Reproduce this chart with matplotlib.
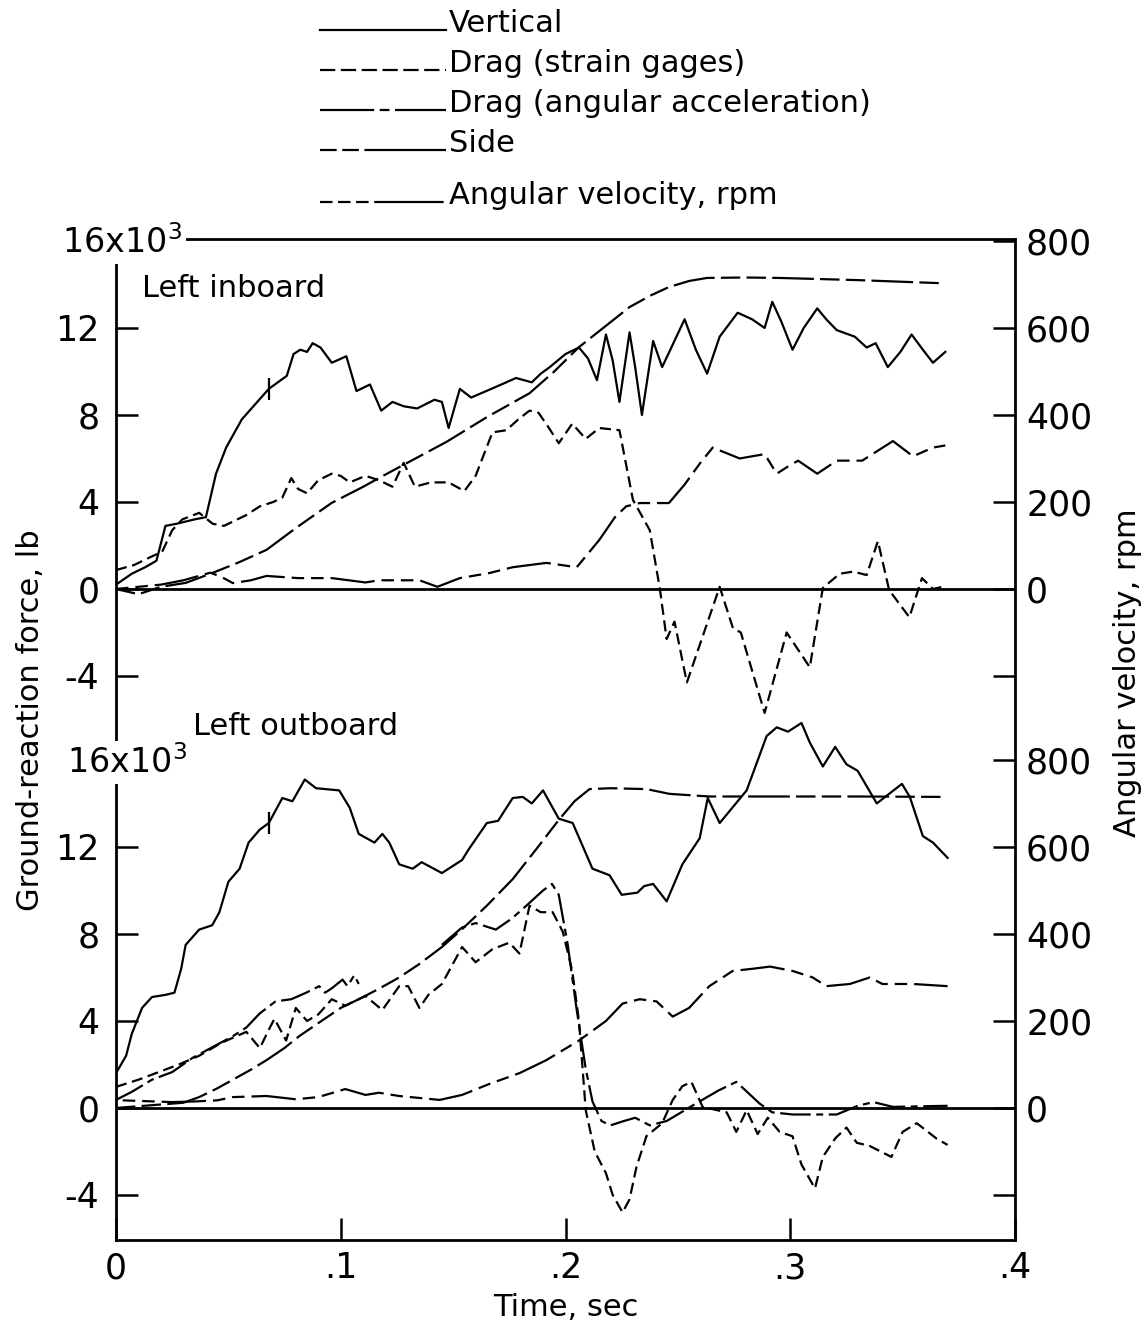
import numpy as np
import matplotlib.pyplot as plt
from matplotlib.lines import Line2D

plt.rcParams['font.family'] = 'DejaVu Sans'
plt.rcParams['mathtext.fontset'] = 'dejavusans'
plt.rcParams['lines.scale_dashes'] = False

W, H = 1148, 1324

# ---- Left inboard (time in sec, force in 10^3 lb, angular velocity in rpm) ----
in_vert_t = [0, 0.007, 0.013, 0.018, 0.022, 0.027, 0.035, 0.040, 0.0445, 0.049, 0.056, 0.062,
             0.068, 0.076, 0.079, 0.082, 0.085, 0.0875, 0.091, 0.096, 0.1025, 0.107, 0.113,
             0.118, 0.123, 0.128, 0.134, 0.1417, 0.145, 0.148, 0.153, 0.158, 0.167, 0.178,
             0.185, 0.189, 0.193, 0.200, 0.206, 0.210, 0.214, 0.218, 0.221, 0.224, 0.2285,
             0.231, 0.234, 0.239, 0.243, 0.248, 0.253, 0.258, 0.263, 0.2686, 0.2766, 0.283,
             0.2886, 0.292, 0.296, 0.301, 0.306, 0.312, 0.316, 0.3207, 0.3287, 0.334, 0.338,
             0.3434, 0.349, 0.354, 0.359, 0.3635, 0.369]
in_vert_f = [0.2, 0.7, 1.0, 1.3, 2.9, 3.0, 3.2, 3.3, 5.3, 6.5, 7.8, 8.5,
             9.2, 9.8, 10.8, 11.0, 10.9, 11.3, 11.1, 10.4, 10.7, 9.1, 9.4,
             8.2, 8.6, 8.4, 8.3, 8.7, 8.6, 7.4, 9.2, 8.8, 9.2, 9.7,
             9.5, 9.9, 10.2, 10.8, 11.1, 10.6, 9.6, 11.7, 10.5, 8.6, 11.8,
             10.2, 8.0, 11.4, 10.2, 11.3, 12.4, 11.0, 9.9, 11.6, 12.7, 12.4,
             12.0, 13.2, 12.3, 11.0, 12.0, 12.9, 12.4, 11.9, 11.6, 11.1, 11.3,
             10.2, 10.9, 11.7, 11.0, 10.4, 10.9]

in_drag_t = [0, 0.008, 0.016, 0.0205, 0.025, 0.0295, 0.037, 0.043, 0.048, 0.052, 0.058, 0.064,
             0.070, 0.074, 0.078, 0.081, 0.085, 0.090, 0.096, 0.100, 0.104, 0.111, 0.117,
             0.123, 0.128, 0.133, 0.140, 0.148, 0.155, 0.160, 0.1675, 0.1737, 0.179, 0.184,
             0.188, 0.192, 0.197, 0.203, 0.209, 0.215, 0.224, 0.230, 0.2375, 0.242, 0.245,
             0.2485, 0.254, 0.2686, 0.2745, 0.278, 0.2886, 0.2984, 0.3087, 0.3145, 0.322,
             0.328, 0.334, 0.339, 0.344, 0.353, 0.3586, 0.3635, 0.3677]
in_drag_f = [0.87, 1.1, 1.5, 1.7, 2.7, 3.2, 3.5, 3.0, 2.9, 3.1, 3.4, 3.8,
             4.0, 4.2, 5.1, 4.6, 4.4, 5.0, 5.3, 5.2, 4.9, 5.2, 5.0,
             4.7, 5.8, 4.7, 4.9, 4.9, 4.5, 5.2, 7.2, 7.3, 7.8, 8.2,
             8.1, 7.5, 6.7, 7.6, 6.9, 7.4, 7.3, 4.1, 2.7, 0.0, -2.3,
             -1.5, -4.3, 0.1, -1.8, -2.0, -5.7, -2.0, -3.6, 0.05, 0.7,
             0.8, 0.64, 2.2, -0.05, -1.3, 0.5, 0.0, 0.1]

in_side_t = [0, 0.01, 0.02, 0.03, 0.042, 0.047, 0.052, 0.06, 0.067, 0.081, 0.096, 0.111,
             0.117, 0.135, 0.143, 0.153, 0.166, 0.1765, 0.1915, 0.205, 0.215, 0.222, 0.227,
             0.233, 0.246, 0.253, 0.26, 0.2655, 0.2775, 0.2886, 0.294, 0.2985, 0.3035,
             0.312, 0.3207, 0.332, 0.3457, 0.3546, 0.3635, 0.369]
in_side_f = [0.0, 0.1, 0.2, 0.4, 0.75, 0.55, 0.27, 0.4, 0.6, 0.5, 0.5, 0.3,
             0.4, 0.4, 0.1, 0.5, 0.73, 1.0, 1.2, 1.0, 2.25, 3.3, 3.8,
             3.95, 3.95, 4.8, 5.8, 6.5, 6.0, 6.2, 5.3, 5.6, 5.9,
             5.3, 5.9, 5.9, 6.8, 6.1, 6.5, 6.6]

in_rpm_t = [0, 0.01, 0.02, 0.031, 0.043, 0.055, 0.067, 0.08, 0.096, 0.11, 0.117, 0.126,
            0.147, 0.165, 0.184, 0.195, 0.206, 0.218, 0.2285, 0.238, 0.246, 0.255, 0.263,
            0.28, 0.295, 0.33, 0.3666]
in_rpm = [0, -12, 5, 14, 37, 62, 90, 140, 198, 235, 255, 280,
          338, 395, 450, 500, 556, 605, 648, 675, 694, 708, 715,
          716, 715, 710, 703]

# ---- Left outboard ----
out_vert_t = [0, 0.0045, 0.007, 0.0116, 0.016, 0.022, 0.026, 0.029, 0.031, 0.037, 0.0428, 0.046,
              0.050, 0.055, 0.059, 0.064, 0.068, 0.074, 0.0785, 0.084, 0.089, 0.0993, 0.104,
              0.108, 0.115, 0.1185, 0.1216, 0.126, 0.132, 0.136, 0.145, 0.154, 0.157, 0.165,
              0.170, 0.1765, 0.181, 0.185, 0.190, 0.197, 0.2032, 0.212, 0.2196, 0.225, 0.232,
              0.235, 0.239, 0.245, 0.252, 0.2597, 0.2633, 0.2686, 0.2806, 0.2895, 0.294,
              0.299, 0.305, 0.3087, 0.3145, 0.32, 0.325, 0.330, 0.3385, 0.3497, 0.3532,
              0.359, 0.3635, 0.370]
out_vert_f = [1.6, 2.4, 3.4, 4.6, 5.1, 5.2, 5.3, 6.4, 7.5, 8.2, 8.4, 9.0,
              10.4, 11.0, 12.2, 12.8, 13.1, 14.25, 14.1, 15.1, 14.7, 14.6, 13.8,
              12.6, 12.2, 12.6, 12.2, 11.2, 11.0, 11.3, 10.8, 11.4, 11.9, 13.1,
              13.2, 14.25, 14.3, 14.0, 14.6, 13.3, 13.1, 11.0, 10.7, 9.8, 9.9,
              10.2, 10.3, 9.5, 11.2, 12.4, 14.25, 13.1, 14.6, 17.1, 17.5,
              17.3, 17.7, 16.8, 15.7, 16.6, 15.8, 15.5, 14.0, 14.9, 14.3,
              12.5, 12.2, 11.5]

out_drag_t = [0, 0.010, 0.019, 0.028, 0.037, 0.047, 0.058, 0.064, 0.068, 0.0705, 0.0757, 0.080,
              0.085, 0.090, 0.096, 0.102, 0.111, 0.1185, 0.126, 0.130, 0.135, 0.139, 0.145,
              0.154, 0.160, 0.1675, 0.175, 0.1795, 0.184, 0.189, 0.1943, 0.1988, 0.203, 0.206,
              0.209, 0.213, 0.218, 0.221, 0.2254, 0.2285, 0.2316, 0.236, 0.243, 0.2477,
              0.252, 0.256, 0.261, 0.2717, 0.276, 0.2806, 0.2855, 0.290, 0.2953, 0.301,
              0.305, 0.311, 0.3145, 0.320, 0.325, 0.3296, 0.3354, 0.345, 0.350, 0.3563,
              0.365, 0.370]
out_drag_f = [0.97, 1.3, 1.65, 2.0, 2.4, 3.0, 3.5, 2.75, 3.6, 4.1, 3.1, 4.6,
              4.0, 4.3, 5.0, 4.7, 5.15, 4.5, 5.6, 5.6, 4.6, 5.2, 5.7,
              7.4, 6.7, 7.3, 7.6, 7.1, 9.3, 9.0, 9.0, 8.1, 6.3, 4.0,
              -0.1, -2.0, -3.0, -4.0, -4.8, -4.2, -2.7, -1.3, -0.7, 0.37,
              1.0, 1.2, 0.05, -0.2, -1.1, -0.1, -1.2, -0.45, -1.1, -1.3,
              -2.6, -3.7, -2.25, -1.4, -0.9, -1.6, -1.75, -2.25, -1.1, -0.7,
              -1.4, -1.7]

# drag from angular acceleration: early trace, then the trace after spin-up
out_acc1_t = [0, 0.007, 0.016, 0.025, 0.034, 0.043, 0.052, 0.058, 0.064, 0.071, 0.078, 0.0846,
              0.0904, 0.093, 0.096, 0.1008, 0.103, 0.106, 0.108]
out_acc1_f = [0.37, 0.74, 1.3, 1.65, 2.3, 2.8, 3.3, 3.7, 4.35, 4.9, 5.0, 5.3,
              5.6, 5.3, 5.5, 5.9, 5.6, 6.1, 5.7]
out_acc2_t = [0.145, 0.154, 0.160, 0.169, 0.176, 0.1826, 0.190, 0.194, 0.197, 0.201, 0.205,
              0.209, 0.212, 0.216, 0.220, 0.226, 0.231, 0.2375, 0.245, 0.258, 0.268, 0.276,
              0.2864, 0.292, 0.301, 0.3207, 0.33, 0.337, 0.3457, 0.370]
out_acc2_f = [7.5, 8.3, 8.5, 8.2, 8.7, 9.3, 10.0, 10.3, 9.8, 7.5, 4.5,
              1.8, 0.3, -0.6, -0.8, -0.6, -0.45, -0.8, -0.6, 0.2, 0.8, 1.2,
              0.2, -0.2, -0.3, -0.3, 0.1, 0.27, 0.05, 0.1]

out_side_t = [0.003, 0.025, 0.035, 0.045, 0.052, 0.067, 0.08, 0.09, 0.102, 0.111, 0.117, 0.126,
              0.144, 0.154, 0.166, 0.1795, 0.1915, 0.206, 0.218, 0.2254, 0.233, 0.2405,
              0.2477, 0.255, 0.264, 0.2744, 0.2833, 0.291, 0.301, 0.310, 0.316, 0.3265,
              0.3354, 0.341, 0.3546, 0.370]
out_side_f = [0.35, 0.27, 0.3, 0.35, 0.5, 0.55, 0.4, 0.5, 0.87, 0.6, 0.7, 0.55,
              0.37, 0.6, 1.1, 1.6, 2.2, 3.1, 4.0, 4.8, 5.0, 4.9,
              4.2, 4.6, 5.6, 6.3, 6.4, 6.5, 6.3, 6.0, 5.6, 5.7,
              6.0, 5.7, 5.7, 5.6]

out_rpm_t = [0, 0.02, 0.03, 0.037, 0.045, 0.052, 0.06, 0.067, 0.075, 0.0815, 0.09, 0.1,
             0.108, 0.117, 0.126, 0.135, 0.145, 0.154, 0.165, 0.1765, 0.187, 0.197, 0.204,
             0.2107, 0.22, 0.236, 0.2463, 0.264, 0.3, 0.33, 0.369]
out_rpm = [0, 8, 12, 25, 45, 65, 88, 110, 138, 165, 195, 230,
           250, 274, 300, 331, 370, 411, 465, 526, 595, 662, 705,
           733, 735, 733, 722, 716, 716, 716, 715]

mark_t = 0.068   # small cross-mark on the vertical-force traces

# line styles (dash lengths in points)
styles = {
    'vert': dict(ls='-'),
    'drag': dict(dashes=(8, 4)),
    'acc': dict(dashes=(22, 4, 5, 4)),
    'side': dict(dashes=(9, 5, 9, 5, 32, 5)),
    'rpm': dict(dashes=(14, 4.5, 14, 4.5, 30, 4.5)),
}
LW = 1.6


def fx(px):
    return px / W


def fy(py):
    return 1 - py / H


fig = plt.figure(figsize=(W / 100, H / 100), dpi=100)
box = [fx(116), fy(1240), fx(1015) - fx(116), fy(239) - fy(1240)]

# outer frame with the time axis
frame = fig.add_axes(box)
frame.set_xlim(0, 0.4)
frame.set_ylim(0, 1)
frame.set_yticks([])
frame.set_xticks([0, 0.1, 0.2, 0.3, 0.4])
frame.set_xticklabels(['0', '.1', '.2', '.3', '.4'])
frame.tick_params(axis='x', direction='in', length=16, width=1.8, labelsize=25, pad=8)
for sp in frame.spines.values():
    sp.set_linewidth(2)
frame.set_xlabel('Time, sec', fontsize=22, labelpad=6)


def panel(ylim, ticks, rticks, rlabels):
    a = fig.add_axes(box, sharex=frame)
    a.set_ylim(*ylim)
    a.set_frame_on(False)
    a.xaxis.set_visible(False)
    a.set_yticks(ticks)
    a.set_yticklabels([f'{t:d}' for t in ticks])
    a.tick_params(axis='y', direction='in', length=16, width=1.8, labelsize=25, pad=12)
    r = a.twinx()
    r.set_ylim(ylim[0] * 50, ylim[1] * 50)
    r.set_frame_on(False)
    r.set_yticks(rticks)
    r.set_yticklabels(rlabels)
    r.tick_params(axis='y', direction='in', length=16, width=1.8, labelsize=25, pad=8)
    a.axhline(0, color='k', lw=2)
    return a, r


force_ticks = [-4, 0, 4, 8, 12]
rpm_ticks = [-200, 0, 200, 400, 600, 800]
rpm_labels = ['', '0', '200', '400', '600', '800']

up, up_r = panel((-29.93, 16.09), force_ticks, rpm_ticks, rpm_labels)
lo, lo_r = panel((-6.07, 39.95), force_ticks, rpm_ticks, rpm_labels)

# upper panel: left inboard
up.plot(in_vert_t, in_vert_f, color='k', lw=LW, **styles['vert'])
up.plot(in_drag_t, in_drag_f, color='k', lw=LW, **styles['drag'])
up.plot(in_side_t, in_side_f, color='k', lw=LW, **styles['side'])
up_r.plot(in_rpm_t, in_rpm, color='k', lw=LW, **styles['rpm'])
up.plot([mark_t], [np.interp(mark_t, in_vert_t, in_vert_f)], marker='|', ms=16, mew=1.6, color='k')

# lower panel: left outboard
lo.plot(out_vert_t, out_vert_f, color='k', lw=LW, **styles['vert'])
lo.plot(out_drag_t, out_drag_f, color='k', lw=LW, **styles['drag'])
lo.plot(out_acc1_t, out_acc1_f, color='k', lw=LW, **styles['acc'])
lo.plot(out_acc2_t, out_acc2_f, color='k', lw=LW, **styles['acc'])
lo.plot(out_side_t, out_side_f, color='k', lw=LW, **styles['side'])
lo_r.plot(out_rpm_t, out_rpm, color='k', lw=LW, **styles['rpm'])
lo.plot([mark_t], [np.interp(mark_t, out_vert_t, out_vert_f)], marker='|', ms=16, mew=1.6, color='k')

# 16x10^3 labels sitting in gaps of the left axis line
white = dict(fc='white', ec='none', pad=3)
fig.text(fx(62), fy(253), r'16x10$^3$', fontsize=24, va='baseline', bbox=white)
fig.text(fx(67), fy(773), r'16x10$^3$', fontsize=24, va='baseline', bbox=white)

fig.text(fx(142), fy(297), 'Left inboard', fontsize=22, va='baseline')
fig.text(fx(193), fy(735), 'Left outboard', fontsize=22, va='baseline')

fig.text(fx(31), fy(720), 'Ground-reaction force, lb', fontsize=22, rotation=90,
         ha='center', va='center')
fig.text(fx(1128), fy(673), 'Angular velocity, rpm', fontsize=22, rotation=90,
         ha='center', va='center')

# key above the frame
legend_items = [
    ('Vertical', dict(ls='-')),
    ('Drag (strain gages)', dict(dashes=(11, 4))),
    ('Drag (angular acceleration)', dict(dashes=(39, 4, 7, 4, 40, 4))),
    ('Side', dict(dashes=(12, 4, 12, 4, 60, 4))),
    ('Angular velocity, rpm', dict(dashes=(9, 4, 9, 4, 9, 4, 50, 4))),
]
legend_y = [32, 72, 112, 152, 204]
for (label, st), yy in zip(legend_items, legend_y):
    fig.add_artist(Line2D([fx(320), fx(446)], [fy(yy - 2), fy(yy - 2)], color='k',
                          lw=LW, transform=fig.transFigure, **st))
    fig.text(fx(449), fy(yy), label, fontsize=22, va='baseline')

fig.savefig('out.png', dpi=100)
